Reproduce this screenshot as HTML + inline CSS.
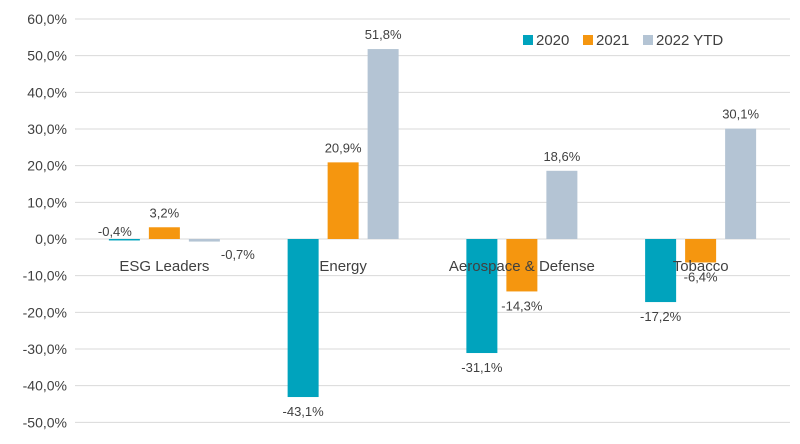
<!DOCTYPE html>
<html><head><meta charset="utf-8"><style>
body{margin:0;background:#fff}
text{font-family:"Liberation Sans",sans-serif;fill:#404040}
</style></head><body>
<svg id="c" width="800" height="439" xmlns="http://www.w3.org/2000/svg"></svg>
<script>
const categories=["ESG Leaders","Energy","Aerospace & Defense","Tobacco"];
const series=["2020","2021","2022 YTD"];
const v2020=[-0.4,-43.1,-31.1,-17.2];
const v2021=[3.2,20.9,-14.3,-6.4];
const v2022=[-0.7,51.8,18.6,30.1];
const yTicks=[60,50,40,30,20,10,0,-10,-20,-30,-40,-50];
const colors=["#00a3bd","#f5960f","#b4c4d4"];
const svg=document.getElementById('c');
const NS="http://www.w3.org/2000/svg";
const x0=75,x1=790,y60=19,y0=239;
const y=v=>y0-(v/10)*((y0-y60)/6);
const cw=(x1-x0)/categories.length;
const cx=i=>x0+cw*(i+0.5);
function mk(t,a){const e=document.createElementNS(NS,t);for(const k in a)e.setAttribute(k,a[k]);svg.appendChild(e);return e;}
const fmt=v=>v.toFixed(1).replace('.',',')+'%';
yTicks.forEach(t=>{
 const l=mk('line',{x1:x0,x2:x1,y1:y(t),y2:y(t),stroke:'#d9d9d9','stroke-width':1});
 
 
 const tx=mk('text',{x:x0-8,y:y(t)+5,'text-anchor':'end','font-size':14});
 tx.textContent=fmt(t);
 
 
});
const all=[v2020,v2021,v2022];
const bw=31,gap=9;
categories.forEach((c,i)=>{
 all.forEach((arr,s)=>{
  const v=arr[i];
  const bx=cx(i)+(s-1)*(bw+gap)-bw/2;
  const top=Math.min(y(v),y0),h=Math.abs(y(v)-y0);
  const r=mk('rect',{x:bx,y:top,width:bw,height:Math.max(h,1),fill:colors[s]});
  
  
  let lx=bx+bw/2, ly=v>=0?y(v)-10:y(v)+19;
  if(Math.abs(v)<1){ if(s===0){lx=bx+6;ly=y0-3;} else {lx=bx+bw+18;ly=y0+20;} }
  const t=mk('text',{x:lx,y:ly,'text-anchor':'middle','font-size':13});
  t.textContent=fmt(v);
  
  
 });
 const cl=mk('text',{x:cx(i),y:271,'text-anchor':'middle','font-size':15});
 cl.textContent=c;
 
 
});
const lgx=[523,583,643];
series.forEach((s,k)=>{
 const r=mk('rect',{x:lgx[k],y:35,width:10,height:10,fill:colors[k]});
 
 
 const t=mk('text',{x:lgx[k]+13,y:45,'font-size':15});
 t.textContent=s;
 
 
});
</script>
</body></html>
